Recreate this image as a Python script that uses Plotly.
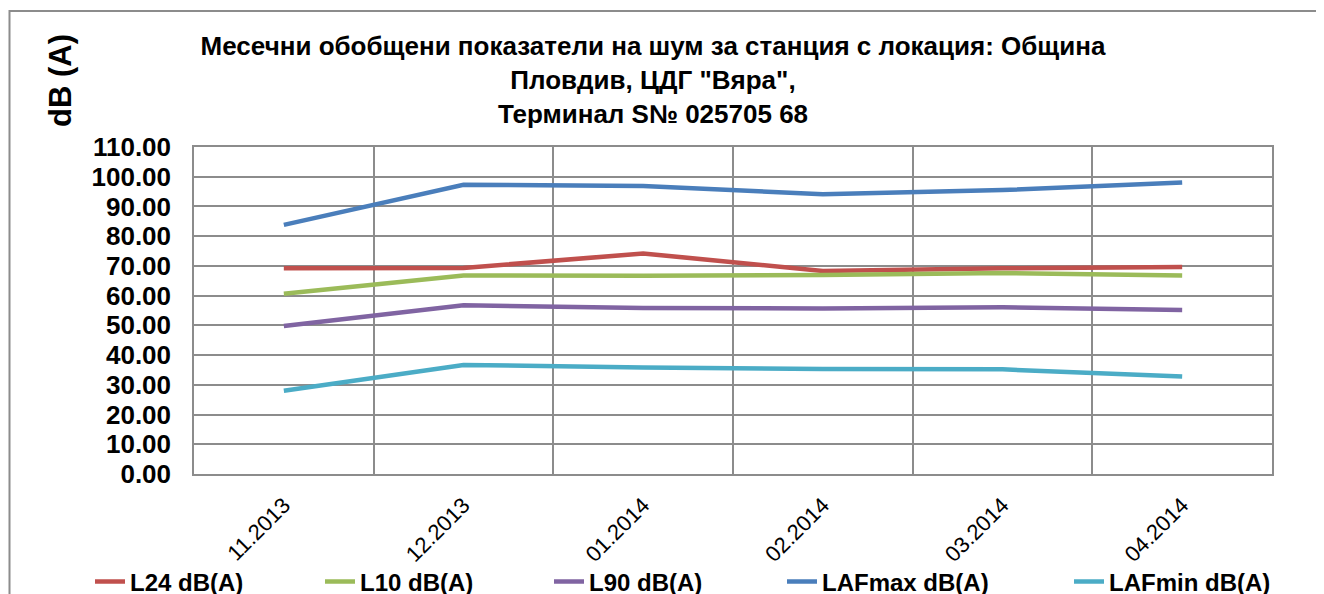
import plotly.graph_objects as go

months = ["11.2013", "12.2013", "01.2014", "02.2014", "03.2014", "04.2014"]
L24 = [69.2, 69.3, 74.2, 68.3, 69.2, 69.6]
L10 = [60.6, 66.8, 66.7, 66.9, 67.6, 66.8]
L90 = [49.8, 56.8, 55.8, 55.7, 56.1, 55.2]
LAFmax = [83.8, 97.3, 96.9, 94.1, 95.5, 98.1]
LAFmin = [28.0, 36.7, 35.8, 35.3, 35.2, 32.8]
y_ticks = [0, 10, 20, 30, 40, 50, 60, 70, 80, 90, 100, 110]

series = [
    ("L24 dB(A)", L24, "#C0504D"),
    ("L10 dB(A)", L10, "#9BBB59"),
    ("L90 dB(A)", L90, "#8064A2"),
    ("LAFmax dB(A)", LAFmax, "#4A7EBB"),
    ("LAFmin dB(A)", LAFmin, "#4BACC6"),
]

W, H = 1324, 594
OFF = 8  # page body margin in the browser
FONT = "Liberation Sans, Arial, sans-serif"
xpos = list(range(len(months)))
legend_text_x = [135, 365, 594, 827, 1114]  # screen x where each legend label starts


def px(x):
    return (x - OFF) / W


def py(y):
    return 1 - (y - OFF) / H


fig = go.Figure()
legend_layouts = {}
for i, (name, vals, col) in enumerate(series):
    lid = "legend" if i == 0 else f"legend{i + 1}"
    fig.add_trace(go.Scatter(x=xpos, y=vals, name=name, mode="lines",
                             line=dict(color=col, width=4.5), legend=lid))
    legend_layouts[lid] = dict(
        orientation="h", x=px(legend_text_x[i] - 49 - 4 + OFF), xanchor="left",
        y=py(582), yanchor="middle",
        font=dict(family=FONT, size=24, color="black", weight="bold"),
        bgcolor="rgba(0,0,0,0)", borderwidth=0)

grid = "#8C8C8C"
fig.update_layout(
    width=W, height=H,
    margin=dict(l=0, r=0, t=0, b=0, autoexpand=False),
    paper_bgcolor="white", plot_bgcolor="white",
    font=dict(family=FONT, color="black"),
    showlegend=True,
    title=dict(
        text="Месечни обобщени показатели на шум за станция с локация: Община<br>Пловдив, ЦДГ \"Вяра\",<br>Терминал S№ 025705 68",
        x=px(653), xanchor="center", y=py(78 - 31 + OFF), yanchor="middle",
        font=dict(family=FONT, size=26, color="black", weight="bold"),
    ),
    xaxis=dict(
        domain=[px(194), px(1272)],
        range=[-0.5, len(months) - 0.5],
        tickmode="array", tickvals=xpos, ticktext=months, tickangle=-45,
        tickfont=dict(family=FONT, size=22, color="black"),
        showgrid=False, zeroline=False, automargin=False,
        showline=True, linecolor=grid, linewidth=1.5, mirror=True,
        ticks="", ticklabelstandoff=8,
        minor=dict(tickmode="array", tickvals=[i + 0.5 for i in xpos[:-1]],
                   showgrid=True, gridcolor=grid, gridwidth=1.5, ticks=""),
        fixedrange=True,
    ),
    yaxis=dict(
        domain=[py(474), py(147)],
        range=[0, 110],
        tickmode="array", tickvals=y_ticks,
        ticktext=[f"{v:.2f}" for v in y_ticks],
        tickfont=dict(family=FONT, size=26, color="black", weight="bold"),
        showgrid=True, gridcolor=grid, gridwidth=1.5, zeroline=False, automargin=False,
        showline=True, linecolor=grid, linewidth=1.5, mirror=True,
        ticks="", ticklabelstandoff=16,
        fixedrange=True,
    ),
    shapes=[dict(type="rect", xref="paper", yref="paper",
                 x0=px(9.5), x1=1.2, y0=-0.2, y1=py(11),
                 line=dict(color="#8C8C8C", width=2), fillcolor="rgba(0,0,0,0)", layer="below")],
    annotations=[dict(text="dB (A)", xref="paper", yref="paper",
                      x=px(61), y=py(81), xanchor="center", yanchor="middle",
                      textangle=-90, showarrow=False,
                      font=dict(family=FONT, size=31, color="black", weight="bold"))],
    **legend_layouts,
)

fig.write_html("out.html")
